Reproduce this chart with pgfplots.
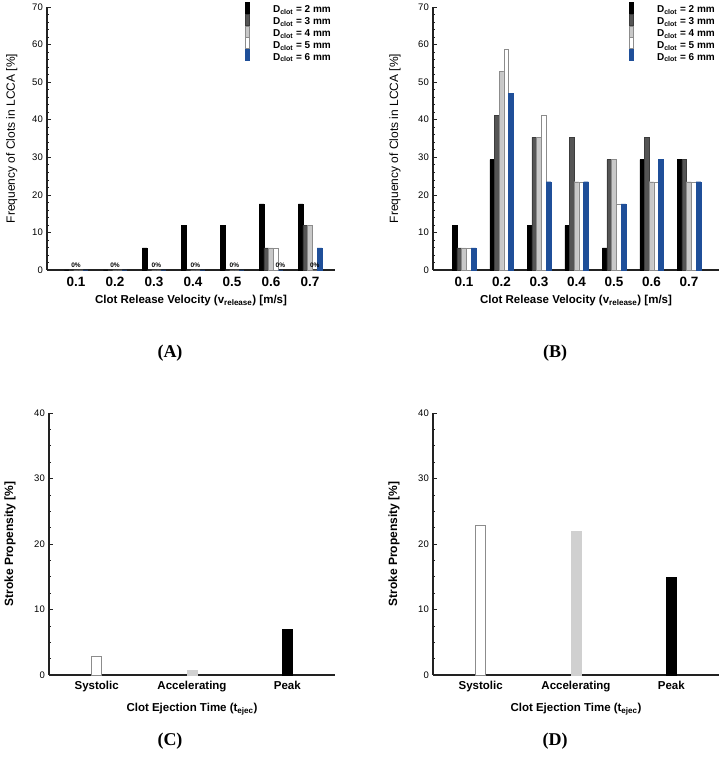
\documentclass[border=0pt]{standalone}
\usepackage{pgfplots}
\pgfplotsset{compat=1.18}
\usepackage{fontspec}
\setmainfont{Liberation Sans}
\newfontfamily\serifb{Liberation Serif}
\definecolor{c2}{HTML}{000000}
\definecolor{c3}{HTML}{555555}
\definecolor{c4}{HTML}{C8C8C8}
\definecolor{c5}{HTML}{FFFFFF}
\definecolor{c6}{HTML}{1F4F99}
\definecolor{axc}{HTML}{222222}
\definecolor{edg}{HTML}{8C8C8C}
\pgfplotsset{
  panel/.style={
    scale only axis, clip=false,
    axis x line*=bottom, axis y line*=left,
    axis line style={axc, line width=1.2pt},
    ymin=0,
    tick align=inside, major tick length=3.5pt, minor tick length=2pt,
    tick style={axc, line width=0.6pt},
    xtick style={draw=none}, minor x tick num=0,
    /pgf/number format/assume math mode=true,
    yticklabel style={font=\fontsize{9.5}{10}\selectfont, anchor=east, inner sep=0pt, xshift=-4pt},
    xticklabel style={anchor=base, inner sep=0pt, yshift=-14pt},
  },
  barleg/.style={legend image code/.code={\draw[##1, line width=0.5pt] (0pt,-0.3em) rectangle (4pt,0.8em);
     \node[draw=none, fill=none, inner sep=0pt, minimum width=27pt, minimum height=1pt, anchor=west] at (0pt,0pt) {};}},
  legstyle/.style={legend style={at={(axis description cs:1,1.028)}, anchor=north east, draw=none, fill=none,
     font=\bfseries\fontsize{10}{11}\selectfont, row sep=-1.6pt, nodes={inner sep=1pt}}, legend cell align=left},
}
\tikzset{zlab/.style={font=\bfseries\fontsize{6.5}{7}\selectfont, anchor=south, inner sep=0pt, yshift=2pt}}
\begin{document}
\begin{tikzpicture}
\useasboundingbox (0pt,0pt) rectangle (725pt,767pt);
% ---------------- (A)
\begin{axis}[panel, at={(47pt,497pt)}, anchor=south west, width=288pt, height=263pt,
  xmin=0.0256, xmax=0.764, ymax=70, ytick={0,10,...,70}, minor y tick num=4,
  xtick={0.1,0.2,0.3,0.4,0.5,0.6,0.7}, xticklabels={0.1,0.2,0.3,0.4,0.5,0.6,0.7},
  xticklabel style={font=\bfseries\fontsize{13.5}{14}\selectfont, yshift=1pt},
  ybar=0pt, bar width=4.7pt, legstyle,
  ylabel={Frequency of Clots in LCCA [\%]},
  ylabel style={at={(axis description cs:-0.122,0.5)}, anchor=center, font=\fontsize{12}{13}\selectfont},
  xlabel={Clot Release Velocity (v\textsubscript{release}) [m/s]},
  xlabel style={at={(axis description cs:0.5,-0.129)}, anchor=base, font=\bfseries\fontsize{11.5}{12}\selectfont},
]
\addplot[barleg, fill=c2, draw=c2] coordinates {(0.1,0)(0.2,0)(0.3,5.9)(0.4,11.8)(0.5,11.8)(0.6,17.6)(0.7,17.6)};
\addplot[barleg, fill=c3, draw=c3!70!black] coordinates {(0.1,0)(0.2,0)(0.3,0)(0.4,0)(0.5,0)(0.6,5.9)(0.7,11.8)};
\addplot[barleg, fill=c4, draw=edg] coordinates {(0.1,0)(0.2,0)(0.3,0)(0.4,0)(0.5,0)(0.6,5.9)(0.7,11.8)};
\addplot[barleg, fill=c5, draw=edg] coordinates {(0.1,0)(0.2,0)(0.3,0)(0.4,0)(0.5,0)(0.6,5.9)(0.7,0)};
\addplot[barleg, fill=c6, draw=c6] coordinates {(0.1,0)(0.2,0)(0.3,0)(0.4,0)(0.5,0)(0.6,0)(0.7,5.9)};
\addlegendentry{D\textsubscript{clot} = 2 mm}
\addlegendentry{D\textsubscript{clot} = 3 mm}
\addlegendentry{D\textsubscript{clot} = 4 mm}
\addlegendentry{D\textsubscript{clot} = 5 mm}
\addlegendentry{D\textsubscript{clot} = 6 mm}
\node[zlab] at (axis cs:0.1,0) {0\%};
\node[zlab] at (axis cs:0.2,0) {0\%};
\node[zlab, xshift=2.35pt] at (axis cs:0.3,0) {0\%};
\node[zlab, xshift=2.35pt] at (axis cs:0.4,0) {0\%};
\node[zlab, xshift=2.35pt] at (axis cs:0.5,0) {0\%};
\node[zlab, xshift=9.4pt] at (axis cs:0.6,0) {0\%};
\node[zlab, xshift=4.7pt] at (axis cs:0.7,0) {0\%};
\end{axis}
% ---------------- (B)
\begin{axis}[panel, at={(433pt,497pt)}, anchor=south west, width=286pt, height=263pt,
  xmin=0.0173, xmax=0.78, ymax=70, ytick={0,10,...,70}, minor y tick num=4,
  xtick={0.1,0.2,0.3,0.4,0.5,0.6,0.7}, xticklabels={0.1,0.2,0.3,0.4,0.5,0.6,0.7},
  xticklabel style={font=\bfseries\fontsize{13.5}{14}\selectfont, yshift=1pt},
  ybar=0pt, bar width=4.7pt, legstyle,
  ylabel={Frequency of Clots in LCCA [\%]},
  ylabel style={at={(axis description cs:-0.133,0.5)}, anchor=center, font=\fontsize{12}{13}\selectfont},
  xlabel={Clot Release Velocity (v\textsubscript{release}) [m/s]},
  xlabel style={at={(axis description cs:0.5,-0.129)}, anchor=base, font=\bfseries\fontsize{11.5}{12}\selectfont},
]
\addplot[barleg, fill=c2, draw=c2] coordinates {(0.1,11.8)(0.2,29.4)(0.3,11.8)(0.4,11.8)(0.5,5.9)(0.6,29.4)(0.7,29.4)};
\addplot[barleg, fill=c3, draw=c3!70!black] coordinates {(0.1,5.9)(0.2,41.2)(0.3,35.3)(0.4,35.3)(0.5,29.4)(0.6,35.3)(0.7,29.4)};
\addplot[barleg, fill=c4, draw=edg] coordinates {(0.1,5.9)(0.2,52.9)(0.3,35.3)(0.4,23.5)(0.5,29.4)(0.6,23.5)(0.7,23.5)};
\addplot[barleg, fill=c5, draw=edg] coordinates {(0.1,5.9)(0.2,58.8)(0.3,41.2)(0.4,23.5)(0.5,17.6)(0.6,23.5)(0.7,23.5)};
\addplot[barleg, fill=c6, draw=c6] coordinates {(0.1,5.9)(0.2,47.1)(0.3,23.5)(0.4,23.5)(0.5,17.6)(0.6,29.4)(0.7,23.5)};
\addlegendentry{D\textsubscript{clot} = 2 mm}
\addlegendentry{D\textsubscript{clot} = 3 mm}
\addlegendentry{D\textsubscript{clot} = 4 mm}
\addlegendentry{D\textsubscript{clot} = 5 mm}
\addlegendentry{D\textsubscript{clot} = 6 mm}
\end{axis}
% ---------------- (C)
\begin{axis}[panel, at={(49pt,92pt)}, anchor=south west, width=286pt, height=262pt,
  xmin=-0.5, xmax=2.5, ymax=40, ytick={0,10,...,40}, minor y tick num=3,
  xtick={0,1,2}, xticklabels={Systolic,Accelerating,Peak},
  xticklabel style={font=\bfseries\fontsize{11.5}{12}\selectfont},
  ylabel={Stroke Propensity [\%]},
  ylabel style={at={(axis description cs:-0.136,0.5)}, anchor=center, font=\bfseries\fontsize{12}{13}\selectfont},
  xlabel={Clot Ejection Time (t\textsubscript{ejec})},
  xlabel style={at={(axis description cs:0.5,-0.141)}, anchor=base, font=\bfseries\fontsize{11.5}{12}\selectfont},
]
\addplot[ybar, bar width=10pt, bar shift=0pt, fill=white, draw=edg] coordinates {(0,2.8)};
\addplot[ybar, bar width=10pt, bar shift=0pt, fill=c4!85, draw=c4!85] coordinates {(1,0.8)};
\addplot[ybar, bar width=10pt, bar shift=0pt, fill=black, draw=black] coordinates {(2,7.0)};
\end{axis}
% ---------------- (D)
\begin{axis}[panel, at={(433pt,92pt)}, anchor=south west, width=286pt, height=262pt,
  xmin=-0.5, xmax=2.5, ymax=40, ytick={0,10,...,40}, minor y tick num=3,
  xtick={0,1,2}, xticklabels={Systolic,Accelerating,Peak},
  xticklabel style={font=\bfseries\fontsize{11.5}{12}\selectfont},
  ylabel={Stroke Propensity [\%]},
  ylabel style={at={(axis description cs:-0.136,0.5)}, anchor=center, font=\bfseries\fontsize{12}{13}\selectfont},
  xlabel={Clot Ejection Time (t\textsubscript{ejec})},
  xlabel style={at={(axis description cs:0.5,-0.141)}, anchor=base, font=\bfseries\fontsize{11.5}{12}\selectfont},
]
\addplot[ybar, bar width=10pt, bar shift=0pt, fill=white, draw=edg] coordinates {(0,22.8)};
\addplot[ybar, bar width=10pt, bar shift=0pt, fill=c4!85, draw=c4!85] coordinates {(1,22.0)};
\addplot[ybar, bar width=10pt, bar shift=0pt, fill=black, draw=black] coordinates {(2,14.9)};
\end{axis}
\node[font=\serifb\bfseries\fontsize{18}{20}\selectfont] at (170pt,414pt) {(A)};
\node[font=\serifb\bfseries\fontsize{18}{20}\selectfont] at (555pt,414pt) {(B)};
\node[font=\serifb\bfseries\fontsize{18}{20}\selectfont] at (170pt,26pt) {(C)};
\node[font=\serifb\bfseries\fontsize{18}{20}\selectfont] at (555pt,26pt) {(D)};
\end{tikzpicture}
\end{document}
